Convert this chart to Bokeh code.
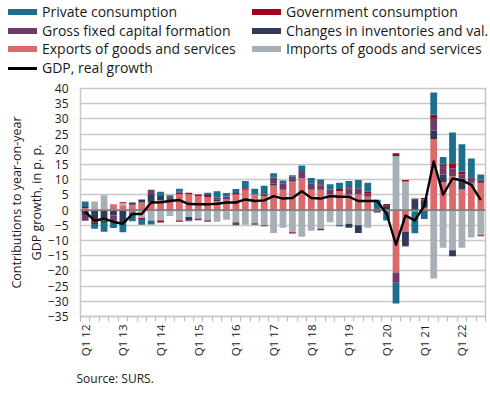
import numpy as np
from bokeh.plotting import figure
from bokeh.layouts import column
from bokeh.models import FixedTicker, Span, Range1d, Title, Div
from bokeh.embed import file_html
from bokeh.resources import INLINE

quarters = ["Q1 12", "Q2 12", "Q3 12", "Q4 12", "Q1 13", "Q2 13", "Q3 13", "Q4 13",
            "Q1 14", "Q2 14", "Q3 14", "Q4 14", "Q1 15", "Q2 15", "Q3 15", "Q4 15",
            "Q1 16", "Q2 16", "Q3 16", "Q4 16", "Q1 17", "Q2 17", "Q3 17", "Q4 17",
            "Q1 18", "Q2 18", "Q3 18", "Q4 18", "Q1 19", "Q2 19", "Q3 19", "Q4 19",
            "Q1 20", "Q2 20", "Q3 20", "Q4 20", "Q1 21", "Q2 21", "Q3 21", "Q4 21",
            "Q1 22", "Q2 22", "Q3 22"]
tick_labels = ["Q1 12", "Q1 13", "Q1 14", "Q1 15", "Q1 16", "Q1 17",
               "Q1 18", "Q1 19", "Q1 20", "Q1 21", "Q1 22"]
y_ticks = [-35, -30, -25, -20, -15, -10, -5, 0, 5, 10, 15, 20, 25, 30, 35, 40]

private = [1.8, -1.5, -3.2, -1.9, -3.0, -2.9, -1.9, -1.3, 1.4, 0.7, 0.8, 0.0,
           0.0, 0.7, 2.1, 1.1, 1.3, 2.4, 1.9, 2.9, 1.4, 0.9, 0.5, 1.8,
           1.8, 1.6, 1.8, 2.1, 2.4, 2.7, 3.0, 2.8, -2.9, -6.8, 0.0, -7.0,
           -2.9, 7.3, 2.6, 10.1, 9.1, 6.2, 1.6]
government = [0.3, -0.6, -0.5, -0.2, 0.3, -0.3, -0.3, 0.0, -0.7, 0.2, -0.4, 0.5,
              0.5, 0.8, 0.0, 0.0, 0.5, 0.5, 0.0, 0.5, 0.0, 0.0, -0.4, 0.0,
              0.0, 0.4, 0.0, 0.7, 0.5, 0.0, 0.6, 0.0, 0.6, 0.6, 0.5, 0.4,
              0.5, 1.1, 0.6, 1.6, 0.8, 0.2, -0.3]
gfcf = [-1.9, 0.0, 0.0, -2.0, 0.0, 0.0, 0.0, 1.7, 0.0, 1.0, 0.5, -0.4,
        -0.5, -0.5, 0.5, 1.0, -1.0, 0.0, -0.5, -0.3, 2.0, 2.1, 1.0, 2.4,
        2.1, 1.4, 1.6, 0.0, 1.6, 2.1, 1.0, -0.8, -0.5, -3.4, -0.5, 0.0,
        0.5, 4.2, 2.7, 2.7, 1.5, 1.6, 1.3]
inventories = [-1.6, -4.0, -3.4, -1.8, -4.3, 0.7, 1.0, 2.3, 1.4, 0.0, 0.4, -1.0,
               0.0, 0.0, 0.6, 0.0, 0.0, 0.0, 0.0, 0.0, 0.6, 0.0, 0.6, 0.0,
               0.0, -0.4, 0.0, -0.3, -1.3, -2.5, 0.0, 0.6, 1.4, 0.4, -4.3, 3.4,
               2.2, 2.7, 2.4, -2.0, 3.5, 0.0, 0.0]
exports = [0.7, 0.0, 0.3, 1.9, 1.6, 1.8, 2.5, 2.7, 3.2, 3.0, 5.3, 5.2,
           4.6, 4.2, 3.0, 3.5, 5.1, 6.7, 5.1, 4.6, 8.1, 6.7, 9.4, 10.5,
           6.7, 6.7, 5.1, 6.2, 5.1, 5.1, 4.4, 0.0, 0.0, -20.5, -7.2, -0.6,
           0.8, 23.4, 9.2, 11.1, 6.8, 9.0, 8.8]
imports = [0.0, 2.8, 4.6, 0.0, 0.8, -0.5, -2.6, -3.4, -3.4, -1.9, -3.4, -2.3,
           -2.8, -3.3, -3.8, -3.2, -4.0, -4.8, -4.3, -5.0, -7.5, -5.8, -7.3, -8.8,
           -6.8, -6.2, -4.0, -5.0, -4.5, -5.0, -5.8, 0.0, 0.0, 17.7, 9.4, 0.0,
           0.0, -22.5, -12.4, -13.2, -12.4, -9.0, -8.3]
gdp = [-0.6, -3.5, -2.8, -3.9, -4.5, -1.3, -1.3, 2.5, 2.6, 3.0, 3.3, 2.0,
       1.9, 1.9, 2.1, 2.5, 2.5, 3.5, 3.0, 3.2, 4.6, 3.8, 4.0, 6.2,
       4.0, 3.8, 4.6, 4.4, 4.4, 3.0, 3.0, 3.0, -1.2, -11.4, -1.8, -3.4,
       1.4, 16.0, 5.1, 10.4, 9.8, 8.3, 3.3]

names = {
    "private": "Private consumption",
    "government": "Government consumption",
    "gfcf": "Gross fixed capital formation",
    "inventories": "Changes in inventories and val.",
    "exports": "Exports of goods and services",
    "imports": "Imports of goods and services",
    "gdp": "GDP, real growth",
}
colors = {
    "private": "#1D6F8E",
    "government": "#A3001C",
    "gfcf": "#6E3A66",
    "inventories": "#303A5B",
    "exports": "#DC6A6C",
    "imports": "#A9AFB6",
    "gdp": "#000000",
}
# stacking order, outward from zero
stack = [("exports", exports), ("imports", imports), ("inventories", inventories),
         ("gfcf", gfcf), ("government", government), ("private", private)]

FONT = "Open Sans"
TXT = "#1A1A1A"
W = 488
x = np.arange(len(quarters))

# ---------------- legend (HTML, two columns) ----------------
legend_cols = [["private", "gfcf", "exports", "gdp"],
               ["government", "inventories", "imports"]]
col_left = [8, 252]
row_mid = [11, 30, 48, 67]
parts = []
for ci, keys in enumerate(legend_cols):
    for ri, k in enumerate(keys):
        h = 2.5 if k == "gdp" else 6
        parts.append(
            f'<div style="position:absolute;left:{col_left[ci]}px;top:{row_mid[ri] - 10}px;'
            f'height:20px;line-height:20px;white-space:nowrap;">'
            f'<span style="display:inline-block;width:29px;height:{h}px;background:{colors[k]};'
            f'vertical-align:middle;margin-right:5px;"></span>'
            f'<span style="vertical-align:middle;">{names[k]}</span></div>')
legend_html = (f'<div style="position:relative;width:{W}px;height:80px;font-family:\'{FONT}\';'
               f'font-size:14px;color:{TXT};">' + "".join(parts) + '</div>')
legend_div = Div(text=legend_html, width=W, height=80, margin=0)

# ---------------- main chart ----------------
p = figure(width=W, height=314, x_range=Range1d(-0.5, len(quarters) - 0.5),
           y_range=Range1d(-35, 40), output_backend="svg", toolbar_location=None,
           min_border_left=80, min_border_right=3, min_border_top=8, min_border_bottom=72)
p.background_fill_color = "white"
p.border_fill_color = "white"
p.outline_line_color = "#C8C8C8"
p.outline_line_width = 1.5
p.xgrid.visible = False
p.ygrid.grid_line_color = "#C8C8C8"
p.ygrid.grid_line_width = 1.5

pos = np.zeros(len(x))
neg = np.zeros(len(x))
for key, vals in stack:
    v = np.array(vals, dtype=float)
    bottom = np.where(v >= 0, pos, neg)
    top = bottom + v
    pos = np.where(v >= 0, top, pos)
    neg = np.where(v < 0, top, neg)
    p.vbar(x=x, bottom=bottom, top=top, width=0.72, fill_color=colors[key], line_color=None)

p.add_layout(Span(location=0, dimension="width", line_color="#7F7F7F", line_width=1.6))

gdp_r = p.line(x, gdp, line_color="black", line_width=2.4, line_join="round")
gdp_r.level = "overlay"

p.yaxis.ticker = FixedTicker(ticks=y_ticks)
p.yaxis.major_tick_out = 0
p.yaxis.major_tick_in = 0
p.yaxis.minor_tick_out = 0
p.yaxis.axis_line_color = None
p.yaxis.major_label_standoff = 12
p.yaxis.major_label_text_font = FONT
p.yaxis.major_label_text_font_size = "12px"
p.yaxis.major_label_text_color = TXT
p.yaxis.axis_label = "Contributions to year-on-year\nGDP growth, in p. p."
p.yaxis.axis_label_text_font = FONT
p.yaxis.axis_label_text_font_size = "12.5px"
p.yaxis.axis_label_text_font_style = "normal"
p.yaxis.axis_label_text_color = TXT
p.yaxis.axis_label_standoff = 0

label_pos = [quarters.index(t) for t in tick_labels]
boundaries = [i - 0.5 for i in range(len(quarters) + 1)]
p.xaxis.ticker = FixedTicker(ticks=label_pos, minor_ticks=boundaries)
p.xaxis.major_label_overrides = {i: t for i, t in zip(label_pos, tick_labels)}
p.xaxis.major_label_orientation = np.pi / 2
p.xaxis.major_tick_out = 0
p.xaxis.major_tick_in = 0
p.xaxis.minor_tick_out = 5
p.xaxis.minor_tick_in = 0
p.xaxis.minor_tick_line_color = "#BDBDBD"
p.xaxis.minor_tick_line_width = 1.2
p.xaxis.axis_line_color = "#C8C8C8"
p.xaxis.axis_line_width = 1.5
p.xaxis.major_label_standoff = 3
p.xaxis.major_label_text_font = FONT
p.xaxis.major_label_text_font_size = "11.5px"
p.xaxis.major_label_text_color = TXT

src = Title(text="Source: SURS.", align="left", offset=-4, standoff=16,
            text_font=FONT, text_font_size="12px", text_font_style="normal",
            text_color=TXT)
p.add_layout(src, "below")

layout = column(legend_div, p, spacing=0)
open("out.html", "w").write(file_html(layout, INLINE))
